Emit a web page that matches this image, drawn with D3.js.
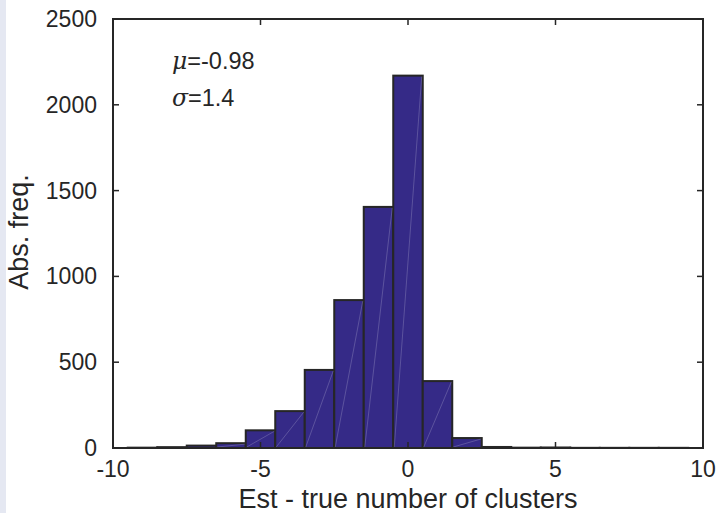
<!DOCTYPE html>
<html>
<head>
<meta charset="utf-8">
<script src="https://cdn.jsdelivr.net/npm/d3@7"></script>
<style>
  html, body { margin: 0; padding: 0; background: #ffffff; }
  svg { display: block; }
  text { font-family: "Liberation Sans", Arial, Helvetica, sans-serif; fill: #262626; }
</style>
</head>
<body>
<svg id="chart" width="718" height="513"></svg>
<script>
// ---- data ----
const binCenters = [-9, -8, -7, -6, -5, -4, -3, -2, -1, 0, 1, 2, 3, 4, 5, 6, 7, 8, 9];
const counts     = [ 2,  5, 14, 28, 103, 215, 455, 862, 1405, 2170, 390, 58, 6, 2, 3, 1, 1, 1, 1];
const xTicks = [-10, -5, 0, 5, 10];
const yTicks = [0, 500, 1000, 1500, 2000, 2500];
const statsLines = [{sym: "\u03BC", val: "=-0.98"}, {sym: "\u03C3", val: "=1.4"}];
const xLabel = "Est - true number of clusters";
const yLabel = "Abs. freq.";

// ---- layout ----
const svg = d3.select("#chart");
const W = 718, H = 513;
const mLeft = 113, mRight = 703, mTop = 19, mBottom = 448;
const binWidth = 1;

const x = d3.scaleLinear().domain([-10, 10]).range([mLeft, mRight]);
const y = d3.scaleLinear().domain([0, 2500]).range([mBottom, mTop]);

svg.append("rect").attr("x", 0).attr("y", 0).attr("width", W).attr("height", H).attr("fill", "#ffffff");
svg.append("rect").attr("x", 0).attr("y", 0).attr("width", 6).attr("height", H).attr("fill", "#e5e8f2");

const ink = "#262626";
const data = binCenters.map((c, i) => ({c, v: counts[i]}));

// bars
const g = svg.append("g");
g.selectAll("rect.bar").data(data).join("rect")
  .attr("class", "bar")
  .attr("x", d => x(d.c - binWidth / 2))
  .attr("y", d => y(d.v))
  .attr("width", d => x(d.c + binWidth / 2) - x(d.c - binWidth / 2))
  .attr("height", d => y(0) - y(d.v))
  .attr("fill", "#352a87")
  .attr("stroke", ink)
  .attr("stroke-width", 2);

// faint triangle seams
g.selectAll("line.seam").data(data.filter(d => d.v > 20)).join("line")
  .attr("class", "seam")
  .attr("x1", d => x(d.c - binWidth / 2) + 1)
  .attr("y1", y(0) - 1)
  .attr("x2", d => x(d.c + binWidth / 2) - 1)
  .attr("y2", d => y(d.v) + 1)
  .attr("stroke", "rgba(255,255,255,0.28)")
  .attr("stroke-width", 0.7);

// frame
svg.append("rect")
  .attr("x", mLeft).attr("y", mTop)
  .attr("width", mRight - mLeft).attr("height", mBottom - mTop)
  .attr("fill", "none").attr("stroke", ink).attr("stroke-width", 2);

// ticks inward
const tl = 6;
const tickG = svg.append("g").attr("stroke", ink).attr("stroke-width", 1.5);
xTicks.forEach(t => {
  tickG.append("line").attr("x1", x(t)).attr("x2", x(t)).attr("y1", mBottom).attr("y2", mBottom - tl);
  tickG.append("line").attr("x1", x(t)).attr("x2", x(t)).attr("y1", mTop).attr("y2", mTop + tl);
});
yTicks.forEach(t => {
  tickG.append("line").attr("x1", mLeft).attr("x2", mLeft + tl).attr("y1", y(t)).attr("y2", y(t));
  tickG.append("line").attr("x1", mRight).attr("x2", mRight - tl).attr("y1", y(t)).attr("y2", y(t));
});

// tick labels
const fs = 23;
svg.append("g").selectAll("text").data(xTicks).join("text")
  .attr("x", d => x(d)).attr("y", 477)
  .attr("text-anchor", "middle").attr("font-size", fs)
  .text(d => d);
svg.append("g").selectAll("text").data(yTicks).join("text")
  .attr("x", 97).attr("y", d => y(d) + 8)
  .attr("text-anchor", "end").attr("font-size", fs)
  .text(d => d);

// axis labels
const lfs = 27;
svg.append("text").attr("x", x(0)).attr("y", 508)
  .attr("text-anchor", "middle").attr("font-size", lfs).text(xLabel);
svg.append("text")
  .attr("transform", `translate(28,${232}) rotate(-90)`)
  .attr("text-anchor", "middle").attr("font-size", lfs).text(yLabel);

// stats
const st = svg.append("g");
statsLines.forEach((s, i) => {
  const t = st.append("text").attr("x", 172).attr("y", 69 + i * 37).attr("font-size", 23.5);
  t.append("tspan").attr("font-style", "italic").attr("font-family", "'DejaVu Serif', 'Liberation Serif', serif").text(s.sym);
  t.append("tspan").text(s.val);
});
</script>
</body>
</html>
